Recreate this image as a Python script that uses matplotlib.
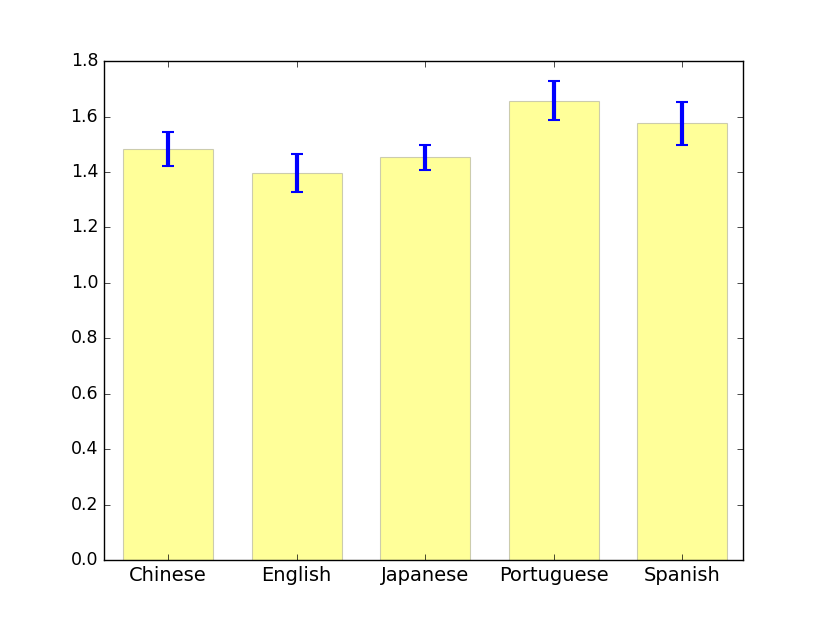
import matplotlib
matplotlib.use('Agg')
import matplotlib.pyplot as plt
import numpy as np

languages = ['Chinese', 'English', 'Japanese', 'Portuguese', 'Spanish']
means = [1.483, 1.396, 1.453, 1.657, 1.575]
errors = [0.061, 0.067, 0.045, 0.070, 0.077]

plt.style.use('classic')
fig = plt.figure(figsize=(8.3, 6.23), dpi=100)
ax = fig.add_subplot(111)
fig.subplots_adjust(left=0.125, right=0.895, bottom=0.101, top=0.902)

pos = np.arange(len(languages))
ax.bar(pos, means, 0.7, color='yellow', alpha=0.4, edgecolor='gray',
       linewidth=0.8, align='center')
ax.errorbar(pos, means, yerr=errors, fmt='none', ecolor='blue',
            elinewidth=3, capsize=4, capthick=1.5)

ax.set_xticks(pos)
ax.set_xticklabels(languages)
ax.set_xlim(-0.5, 4.47)
ax.set_ylim(0, 1.8)
ax.tick_params(axis='x', labelsize=14)
ax.tick_params(axis='y', labelsize=12.5)

plt.savefig('out.png', dpi=100)
